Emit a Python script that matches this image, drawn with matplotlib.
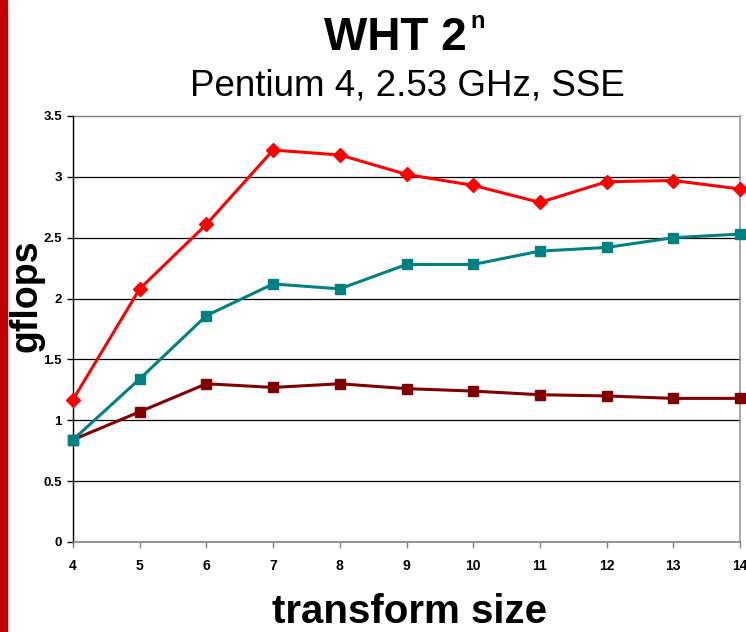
import matplotlib
matplotlib.use("Agg")
import matplotlib.pyplot as plt
from matplotlib.patches import Rectangle

sizes = [4, 5, 6, 7, 8, 9, 10, 11, 12, 13, 14]
red_vals = [1.17, 2.08, 2.61, 3.22, 3.18, 3.02, 2.93, 2.79, 2.96, 2.97, 2.90]
teal_vals = [0.84, 1.34, 1.86, 2.12, 2.08, 2.28, 2.28, 2.39, 2.42, 2.50, 2.53]
dark_vals = [0.84, 1.07, 1.30, 1.27, 1.30, 1.26, 1.24, 1.21, 1.20, 1.18, 1.18]
yticks = [0, 0.5, 1, 1.5, 2, 2.5, 3, 3.5]
ytick_labels = ["0", "0.5", "1", "1.5", "2", "2.5", "3", "3.5"]

plt.rcParams['font.family'] = ['Liberation Sans', 'DejaVu Sans']

fig = plt.figure(figsize=(7.46, 6.32), dpi=100)
ax = fig.add_axes([73/746, 1-542/632, (740-73)/746, (542-116)/632])

for y in yticks[1:-1]:
    ax.axhline(y, color='black', lw=0.9, zorder=1)
ax.axhline(3.5, color='#808080', lw=1.0, zorder=1)

ax.plot(sizes, dark_vals, color='#800000', lw=2.2, marker='s', ms=7, zorder=3)
ax.plot(sizes, teal_vals, color='#008080', lw=2.2, marker='s', ms=7, zorder=4)
ax.plot(sizes, red_vals, color='#FF0000', lw=2.2, marker='D', ms=7, zorder=5)

ax.set_xlim(4, 14)
ax.set_ylim(0, 3.5)
ax.set_xticks(sizes)
ax.set_xticklabels([str(s) for s in sizes], fontsize=10, fontweight='bold')
ax.set_yticks(yticks)
ax.set_yticklabels(ytick_labels, fontsize=9.5, fontweight='bold')
ax.tick_params(axis='both', direction='out', length=4, width=1)
ax.tick_params(axis='y', pad=4)
ax.tick_params(axis='x', colors='#808080', labelcolor='black', pad=8)

ax.spines['left'].set_color('black')
ax.spines['left'].set_linewidth(1.0)
ax.spines['bottom'].set_color('#808080')
ax.spines['bottom'].set_linewidth(1.2)
ax.spines['right'].set_color('#999999')
ax.spines['right'].set_linewidth(1.2)
ax.spines['top'].set_visible(False)
for sp in ax.spines.values():
    sp.set_zorder(2)
for line in ax.get_lines():
    line.set_clip_on(False)

fig.text(395.5/746, 1-50/632, "WHT 2", fontsize=33, fontweight='bold',
         ha='center', va='baseline')
fig.text(470/746, 1-28/632, "n", fontsize=17, fontweight='bold',
         ha='left', va='baseline')
fig.text(407/746, 1-96/632, "Pentium 4, 2.53 GHz, SSE", fontsize=26.5,
         ha='center', va='baseline')
fig.text(410/746, 1-623/632, "transform size", fontsize=29, fontweight='bold',
         ha='center', va='baseline')
fig.text(27/746, 1-296/632, "gflops", fontsize=27, fontweight='bold',
         ha='center', va='center', rotation=90)

fig.patches.append(Rectangle((0, 0), 7/746, 1, transform=fig.transFigure,
                             color='#C00000', zorder=0))

fig.savefig("out.png", dpi=100)
